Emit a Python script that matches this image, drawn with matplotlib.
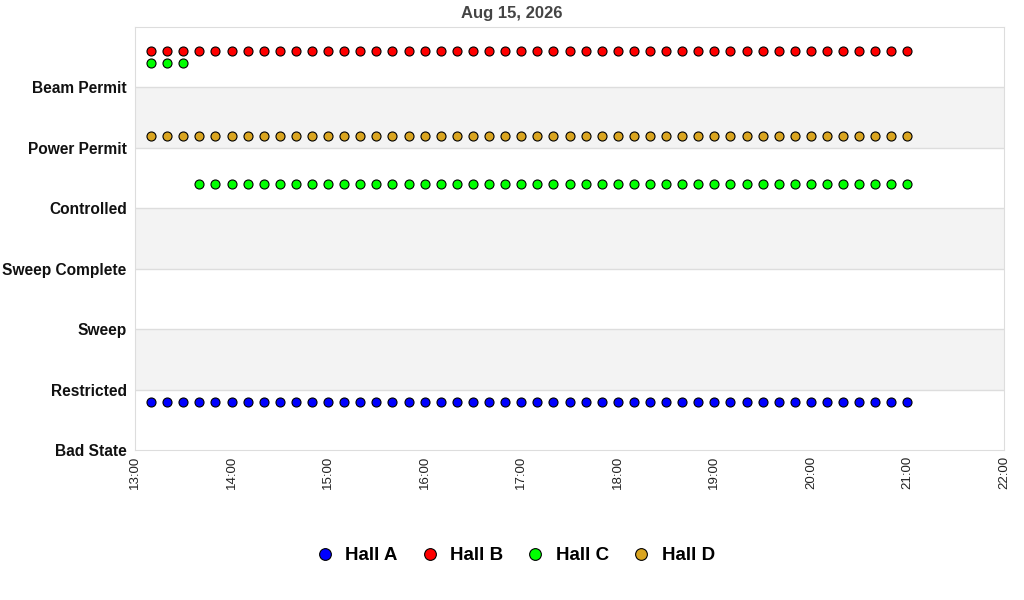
import numpy as np
import pandas as pd
import matplotlib
matplotlib.use("Agg")
import matplotlib.pyplot as plt
import matplotlib.dates as mdates

plt.rcParams['font.family'] = ['Liberation Sans', 'DejaVu Sans']

# state levels, bottom to top
levels = ["Bad State", "Restricted", "Sweep", "Sweep Complete",
          "Controlled", "Power Permit", "Beam Permit"]

# samples every 10 minutes, 13:10 .. 21:00
times = pd.date_range("2026-08-15 13:10", "2026-08-15 21:00", freq="10min")

hall_a = ["Bad State"] * 48
hall_b = ["Beam Permit"] * 48
hall_c = ["Beam Permit"] * 3 + ["Controlled"] * 45
hall_d = ["Power Permit"] * 48

halls = ["Hall A", "Hall B", "Hall C", "Hall D"]
hall_states = [hall_a, hall_b, hall_c, hall_d]
offsets = [0.8, 0.6, 0.4, 0.2]
colors = ["#0000ff", "#ff0000", "#00ff00", "#daa520"]

fig = plt.figure(figsize=(10.24, 6), dpi=100)
ax = fig.add_axes([135 / 1024, 150 / 600, 869 / 1024, 423 / 600])

# alternating bands
for i in range(len(levels)):
    if i % 2 == 1:
        ax.axhspan(i, i + 1, color="#f3f3f3", zorder=0, lw=0)
for i in range(1, len(levels)):
    ax.axhline(i, color="#dddddd", lw=1, zorder=1)

for name, states, off, c in zip(halls, hall_states, offsets, colors):
    y = [levels.index(s) + off for s in states]
    ax.plot(times, y, ls="none", marker="o", ms=6.5, mfc=c, mec="black",
            mew=0.8, label=name, zorder=3)

ax.set_ylim(0, 7)
ax.set_yticks(range(len(levels)))
ax.set_yticklabels(levels, fontsize=11.2, fontweight="bold", color="#111111")
ax.set_xlim(pd.Timestamp("2026-08-15 13:00"), pd.Timestamp("2026-08-15 22:00"))
ax.xaxis.set_major_locator(mdates.HourLocator())
ax.xaxis.set_major_formatter(mdates.DateFormatter("%H:%M"))
ax.tick_params(axis="x", labelrotation=90, labelsize=9.5, length=0, pad=4,
               labelcolor="#222222")
ax.tick_params(axis="y", length=0, pad=6)
for s in ax.spines.values():
    s.set_color("#dddddd")

fig.text(0.5, 0.977, "Aug 15, 2026", ha="center", va="center",
         fontsize=12, fontweight="bold", color="#444444")

leg = fig.legend(loc="center", bbox_to_anchor=(0.503, 0.074), ncol=4,
                 frameon=False, handlelength=1.0, handletextpad=0.6,
                 columnspacing=1.2,
                 prop={"size": 13.5, "weight": "bold"}, markerscale=1.3)

fig.savefig("out.png", dpi=100)
